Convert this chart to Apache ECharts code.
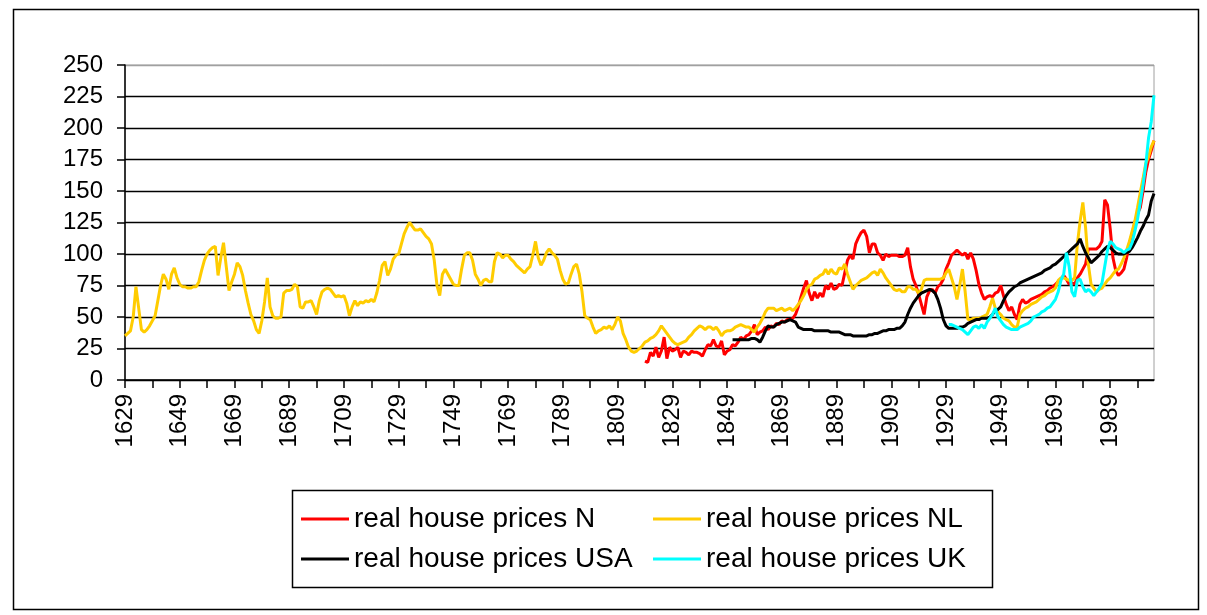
<!DOCTYPE html>
<html>
<head>
<meta charset="utf-8">
<title>real house prices</title>
<script src="https://cdn.jsdelivr.net/npm/echarts@6.0.0/dist/echarts.min.js"></script>
<style>
    html, body { margin: 0; padding: 0; background: #fff; }
    #houseChart { width: 1207px; height: 615px; }
</style>
</head>
<body>
<div id="houseChart"></div>
<script>
// years on the category axis
var firstYear = 1629;
var lastYear = 2005;

// real house prices NL (Herengracht), one value a year from 1629
var nlStart = 1629;
var pricesNL = [
    35,37,39,50,74,57,40,38,40,43,   // 1629
    47,51,63,75,84,80,72,84,89,81,   // 1639
    76,74,74,73,73,74,74,78,87,95,   // 1649
    100,103,105,106,83,97,109,90,71,78,
    84,93,90,83,71,61,52,47,40,37,   // 1669
    47,62,81,58,51,49,49,50,69,71,
    71,72,76,74,58,57,62,62,63,58,   // 1689
    52,63,70,72,73,72,69,66,67,66,
    67,61,51,58,63,59,62,61,63,62,   // 1709
    64,62,69,79,91,94,83,88,96,99,
    100,108,116,121,125,122,119,119,120,117, // 1729
    114,112,108,95,75,67,84,88,84,80,
    76,75,75,88,99,101,101,95,84,80, // 1749
    75,79,80,78,78,94,101,100,97,99,
    99,96,94,91,89,87,85,88,90,99,   // 1769
    110,97,91,95,101,104,101,99,96,87,
    80,76,77,84,90,92,84,70,51,49,   // 1789
    48,42,37,39,40,42,41,43,40,44,
    50,47,37,32,26,23,22,23,25,27,   // 1809
    30,31,33,34,36,39,43,40,37,34,
    31,29,28,29,30,31,34,36,39,41,   // 1829
    43,42,40,42,42,40,42,39,35,38,
    39,39,40,42,43,44,43,42,42,40,   // 1849
    38,42,45,49,54,57,57,57,55,56,
    57,55,56,57,55,57,60,63,67,72,   // 1869
    75,76,80,81,83,84,88,84,88,85,
    84,89,88,92,84,78,72,75,77,79,   // 1889
    80,81,83,85,86,83,88,85,81,78,
    75,72,71,72,70,70,74,74,72,72,   // 1909
    69,72,79,80,80,80,80,80,80,81,
    85,88,81,74,64,75,88,70,48,48,   // 1929
    49,49,49,50,51,52,58,65,57,54,
    52,49,48,47,44,42,42,52,55,57,   // 1949
    58,60,61,62,64,66,67,69,70,71,
    73,79,81,81,80,79,79,81,108,126, // 1969
    141,121,92,76,73,70,72,73,76,79,
    81,84,87,88,92,97,103,110,118,126, // 1989
    137,149,160,172,177,185,190
];

// real house prices N (Norway) from 1819
var nStart = 1819;
var pricesN = [
    15,14,22,19,26,18,23,34,17,26,   // 1819
    23,24,26,18,23,22,20,23,22,22,
    21,19,24,28,27,32,27,26,31,20,   // 1839
    23,24,28,27,30,34,32,35,36,39,
    44,36,38,39,42,40,43,42,45,44,   // 1859
    47,46,48,48,49,52,58,66,73,79,
    69,63,70,65,69,66,75,72,77,72,   // 1879
    73,76,75,85,95,99,96,108,113,117,
    119,114,101,108,108,101,99,95,100,98, // 1899
    99,99,99,98,98,99,105,90,80,75,
    68,60,52,66,71,72,69,74,76,80,   // 1919
    88,93,99,101,103,101,99,101,96,101,
    96,87,76,69,64,66,67,66,69,70,   // 1939
    75,67,60,55,58,52,48,60,64,61,
    62,64,65,66,67,68,70,71,73,74,   // 1959
    76,78,80,83,80,76,77,76,81,84,
    88,92,104,104,104,104,106,110,143,139, // 1979
    120,97,87,83,85,88,97,108,116,125,
    132,137,150,165,175,182,190      // 1999
];

// real house prices USA from 1851
var usaStart = 1851;
var pricesUSA = [
    32,32,32,32,32,32,32,33,33,32,   // 1851
    30,34,39,43,42,42,44,45,46,46,
    47,48,47,46,42,41,40,40,40,40,   // 1871
    39,39,39,39,39,39,38,38,38,38,
    37,36,36,36,35,35,35,35,35,35,   // 1891
    36,36,37,37,38,39,39,40,40,40,
    41,41,43,46,52,57,61,64,67,69,   // 1911
    70,71,72,71,69,64,57,48,43,41,
    41,41,41,42,42,43,45,46,47,48,   // 1931
    48,49,49,49,50,52,55,56,58,63,
    67,70,72,74,75,77,78,79,80,81,   // 1951
    82,83,84,85,87,88,89,91,92,94,
    96,98,100,102,104,106,108,112,106,101, // 1971
    97,93,95,97,99,102,104,106,105,103,
    101,100,100,100,101,102,105,109,113,118, // 1991
    122,127,131,142,148
];

// real house prices UK from 1930
var ukStart = 1930;
var pricesUK = [
    44,44,43,42,41,40,38,36,39,42,   // 1930
    43,41,44,41,46,49,52,57,50,47,
    44,42,41,40,40,40,42,43,44,45,   // 1950
    47,50,51,52,54,55,57,58,61,64,
    70,79,84,101,90,70,66,79,80,74,  // 1970
    70,72,70,67,70,73,77,90,103,110,
    108,105,104,103,101,103,104,109,118,128, // 1990
    141,155,171,192,205,226
];

var yTicks = { min: 0, max: 250, step: 25 };

var years = [];
for (var y = firstYear; y <= lastYear; y++) {
    years.push(String(y));
}

// put a series on the full year axis, empty before its first year
function onYears(start, values) {
    var out = [];
    for (var i = firstYear; i < start; i++) out.push(null);
    return out.concat(values);
}

var font = "'Liberation Sans', Arial, sans-serif";

function lineSeries(name, color, data) {
    return {
        "name": name,
        "type": "line",
        "data": data,
        "symbol": "none",
        "connectNulls": false,
        "lineStyle": { "color": color, "width": 3 },
        "itemStyle": { "color": color },
        "emphasis": { "disabled": true },
        "animation": false
    };
}

// grid lines black, the top one grey like the plot border
var gridColors = [];
for (var v = yTicks.min; v <= yTicks.max; v += yTicks.step) {
    gridColors.push(v === yTicks.max ? "#a0a0a0" : "#000");
}

var chart = echarts.init(document.getElementById("houseChart"), null, { renderer: "canvas" });
var legendText = { color: "#000", fontFamily: font, fontSize: 28 };
var option = {
    backgroundColor: "#fff",
    animation: false,
    grid: {
        left: 125,
        top: 65,
        width: 1029,
        height: 315,
        show: true,
        borderColor: "#a0a0a0",
        borderWidth: 1,
        backgroundColor: "transparent"
    },
    legend: [
        {
            data: ["real house prices N", "real house prices USA"],
            orient: "vertical",
            left: 296,
            top: 500,
            itemWidth: 48,
            itemHeight: 3,
            itemGap: 12,
            icon: "rect",
            selectedMode: false,
            textStyle: legendText
        },
        {
            data: ["real house prices NL", "real house prices UK"],
            orient: "vertical",
            left: 648,
            top: 500,
            itemWidth: 48,
            itemHeight: 3,
            itemGap: 12,
            icon: "rect",
            selectedMode: false,
            textStyle: legendText
        }
    ],
    graphic: [
        {   // outer chart frame
            type: "rect",
            left: 11, top: 7,
            shape: { width: 1185, height: 600 },
            style: { fill: "none", stroke: "#000", lineWidth: 1.5 },
            silent: true
        },
        {   // legend box
            type: "rect",
            left: 290, top: 488,
            shape: { width: 700, height: 97 },
            style: { fill: "none", stroke: "#000", lineWidth: 1.5 },
            silent: true
        }
    ],
    xAxis: {
        type: "category",
        data: years,
        boundaryGap: false,
        axisLine: { lineStyle: { color: "#000", width: 1.5 } },
        axisTick: {
            show: true,
            length: 8,
            lineStyle: { color: "#000", width: 1.5 },
            interval: function (index) { return index % 10 === 0; }
        },
        axisLabel: {
            interval: function (index) { return index % 20 === 0; },
            rotate: 90,
            margin: 14,
            color: "#000",
            fontFamily: font,
            fontSize: 24
        },
        splitLine: { show: false }
    },
    yAxis: {
        type: "value",
        min: yTicks.min,
        max: yTicks.max,
        interval: yTicks.step,
        axisLine: { show: true, lineStyle: { color: "#000", width: 1.5 } },
        axisTick: { show: true, length: 8, lineStyle: { color: "#000", width: 1.5 } },
        axisLabel: {
            margin: 22,
            color: "#000",
            fontFamily: font,
            fontSize: 24
        },
        splitLine: { show: true, lineStyle: { color: gridColors, width: 1.3 } }
    },
    series: [
        lineSeries("real house prices N", "#ff0000", onYears(nStart, pricesN)),
        lineSeries("real house prices NL", "#ffcc00", onYears(nlStart, pricesNL)),
        lineSeries("real house prices USA", "#000000", onYears(usaStart, pricesUSA)),
        lineSeries("real house prices UK", "#00ffff", onYears(ukStart, pricesUK))
    ]
};
if (option && option.series) {
    chart.setOption(option);
}
</script>
</body>
</html>
